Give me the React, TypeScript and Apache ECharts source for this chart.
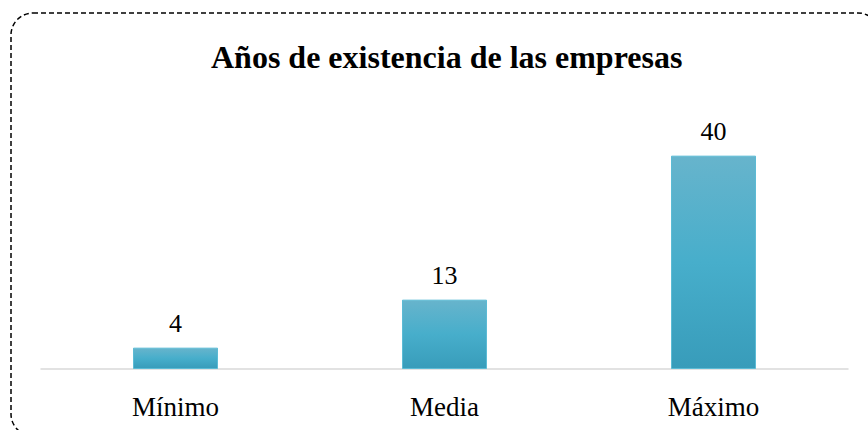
import React, { useEffect, useRef } from "react";
import * as echarts from "echarts";

const categories = ["Mínimo", "Media", "Máximo"];
const values = [4, 13, 40];
const titleText = "Años de existencia de las empresas";

export default function App() {
  const ref = useRef<HTMLDivElement>(null);
  useEffect(() => {
    if (!ref.current) return;
    const chart = echarts.init(ref.current, undefined, { renderer: "svg" });
    chart.setOption({
      animation: false,
      backgroundColor: "#ffffff",
      title: {
        text: titleText,
        left: 206,
        top: 36,
        textStyle: {
          fontFamily: "Liberation Serif",
          fontWeight: "bold",
          fontSize: 32,
          color: "#000000",
        },
      },
      graphic: [
        {
          type: "rect",
          silent: true,
          shape: { x: 11, y: 13, width: 869, height: 423, r: 22 },
          style: {
            fill: "none",
            stroke: "#000000",
            lineWidth: 1.5,
            lineDash: [5, 3],
          },
        },
      ],
      grid: { left: 41, right: 20, top: 129, bottom: 61 },
      xAxis: {
        type: "category",
        data: categories,
        axisTick: { show: false },
        axisLine: { lineStyle: { color: "#d9d9d9", width: 1.5 } },
        axisLabel: {
          fontFamily: "Liberation Serif",
          fontSize: 27,
          color: "#000000",
          margin: 24,
        },
      },
      yAxis: {
        type: "value",
        min: 0,
        max: 45,
        show: false,
        splitLine: { show: false },
      },
      series: [
        {
          type: "bar",
          data: values,
          barWidth: 85,
          itemStyle: {
            color: new echarts.graphic.LinearGradient(0, 0, 0, 1, [
              { offset: 0, color: "#67b4cc" },
              { offset: 0.5, color: "#47aecb" },
              { offset: 1, color: "#389cba" },
            ]),
            borderColor: "#5cbbd5",
            borderWidth: 1,
          },
          label: {
            show: true,
            position: "top",
            distance: 11,
            fontFamily: "Liberation Serif",
            fontSize: 26,
            color: "#000000",
          },
        },
      ],
    });
    return () => chart.dispose();
  }, []);
  return (
    <div
      ref={ref}
      style={{ position: "fixed", left: 0, top: 0, width: 868, height: 430 }}
    />
  );
}
